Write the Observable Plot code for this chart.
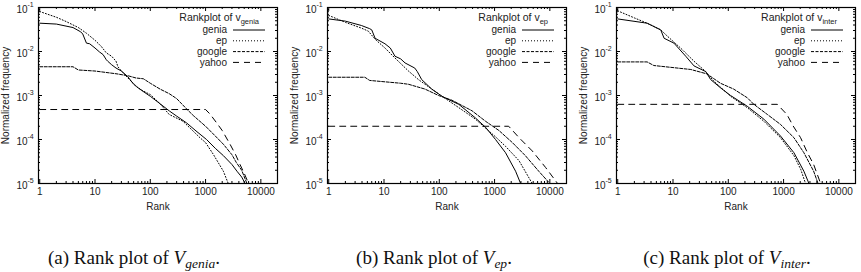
<!DOCTYPE html>
<html><head><meta charset="utf-8">
<script src="https://cdn.jsdelivr.net/npm/d3@7"></script>
<script src="https://cdn.jsdelivr.net/npm/@observablehq/plot@0.6"></script>
<style>
body{margin:0;background:#fff;width:861px;height:272px;overflow:hidden;position:relative;font-family:"Liberation Sans",Arial,sans-serif}
.panel{position:absolute;top:0;width:289px;height:225px;overflow:visible}
.panel svg{max-width:none !important}
.cap{position:absolute;top:247px;font-family:"Liberation Serif","Times New Roman",serif;font-size:19px;white-space:nowrap;transform:translateX(-50%);color:#111}
.cap sub{font-size:13.5px;vertical-align:-4px;line-height:0}
</style></head><body>
<div id="p0" class="panel" style="left:0px"></div>
<div id="p1" class="panel" style="left:289px"></div>
<div id="p2" class="panel" style="left:578px"></div>
<div class="cap" style="left:134px">(a) Rank plot of <i>V<sub>genia</sub></i>.</div>
<div class="cap" style="left:434px">(b) Rank plot of <i>V<sub>ep</sub></i>.</div>
<div class="cap" style="left:727px">(c) Rank plot of <i>V<sub>inter</sub></i>.</div>
<script>
// ---- data (rank, normalized frequency) ----
const xTicks = [1, 10, 100, 1000, 10000];
const yTicks = [1e-1, 1e-2, 1e-3, 1e-4, 1e-5];
const seriesNames = ["genia", "ep", "google", "yahoo"];
const panelSubs = ["genia", "ep", "inter"];

// panel (a): vocabulary V_genia
const genia_a = [[1,0.044],[2,0.042],[4,0.035],[5.5,0.028],[6,0.025],[7,0.0155],[8,0.015],[10,0.012],[12,0.0098],[14,0.0085],[16,0.0065],[17,0.006],[20,0.005],[24,0.0042],[30,0.0036],[39,0.0027],[50,0.0018],[56,0.0016],[70,0.0013],[100,0.00096],[150,0.00065],[224,0.00044],[300,0.00034],[450,0.00024],[700,0.00015],[1040,0.0001],[1500,0.000063],[2100,0.000043],[3000,0.000027],[3700,0.000019],[4500,0.000014],[5200,0.00001]];
const ep_a = [[1,0.081],[2,0.06],[3,0.048],[5,0.035],[7,0.026],[10,0.018],[13,0.013],[16,0.0093],[20,0.0078],[24,0.006],[26,0.0045],[30,0.0036],[42,0.0023],[60,0.0015],[75,0.00126],[100,0.00105],[150,0.00065],[220,0.00037],[390,0.00026],[790,0.00011],[1000,0.000085],[1380,0.000046],[2100,0.000019],[2570,0.00001]];
const google_a = [[1,0.0045],[4,0.0045],[5,0.0038],[10,0.0036],[25,0.0031],[40,0.0028],[55,0.0025],[75,0.0024],[100,0.0019],[150,0.0014],[220,0.0011],[300,0.00085],[450,0.0005],[600,0.00035],[1000,0.0002],[1500,0.00012],[2100,0.000078],[3000,0.000045],[3600,0.00003],[4500,0.00002],[5600,0.00001]];
const yahoo_a = [[1,0.00048],[1000,0.00048],[1200,0.00038],[1580,0.00024],[2000,0.00016],[2770,0.000078],[3500,0.000045],[4200,0.000027],[5000,0.000017],[6000,0.00001]];

// panel (b): vocabulary V_ep
const genia_b = [[1,0.055],[2,0.049],[3.9,0.039],[5.5,0.033],[6,0.031],[6.9,0.02],[10.4,0.015],[13,0.012],[15.8,0.0078],[20,0.0068],[24,0.0055],[36,0.0042],[40,0.0035],[48,0.0023],[73,0.0014],[112,0.00096],[150,0.0008],[225,0.00063],[450,0.00031],[686,0.00019],[1040,0.0001],[1580,0.00005],[2400,0.000019],[2960,0.00001]];
const ep_b = [[1,0.066],[2,0.046],[3.9,0.034],[5.2,0.029],[6.9,0.019],[10.4,0.012],[15.8,0.0071],[27.7,0.0036],[42,0.0023],[73,0.0014],[112,0.00096],[225,0.00053],[450,0.00029],[1040,0.000115],[1580,0.00007],[2770,0.000033],[4800,0.00001]];
const google_b = [[1,0.0026],[4.5,0.0026],[5.5,0.0022],[20,0.0019],[27.7,0.0018],[55,0.0014],[97,0.001],[170,0.00078],[390,0.00045],[686,0.00026],[1200,0.00016],[2100,0.000085],[3600,0.000043],[6300,0.000019],[10000,0.00001]];
const yahoo_b = [[1,0.0002],[1800,0.0002],[2770,0.00011],[4800,0.000055],[8400,0.000023],[13800,0.00001]];

// panel (c): vocabulary V_inter
const genia_c = [[1,0.055],[3.4,0.044],[6,0.031],[6.9,0.02],[10.4,0.0155],[17,0.0078],[24,0.0047],[39,0.0035],[48,0.0023],[72,0.0015],[110,0.001],[220,0.00057],[440,0.00029],[880,0.00012],[1540,0.00005],[2330,0.000019],[2880,0.00001]];
const ep_c = [[1,0.084],[2,0.058],[3.4,0.044],[6,0.031],[8,0.022],[13.7,0.012],[24,0.006],[39,0.0035],[55,0.0021],[110,0.00096],[220,0.00053],[440,0.00026],[880,0.00011],[1540,0.000043],[2040,0.000021],[2500,0.00001]];
const google_c = [[1,0.0058],[3.4,0.0058],[4.5,0.0048],[21,0.0039],[41,0.0031],[72,0.0019],[125,0.0014],[220,0.00089],[290,0.00063],[510,0.00037],[880,0.00022],[1540,0.00011],[2330,0.00005],[3500,0.000019],[4200,0.00001]];
const yahoo_c = [[1,0.00063],[770,0.00063],[1150,0.00037],[1500,0.0002],[2030,0.00011],[2700,0.00005],[3500,0.000027],[4680,0.00001]];

const panels = [
  [genia_a, ep_a, google_a, yahoo_a],
  [genia_b, ep_b, google_b, yahoo_b],
  [genia_c, ep_c, google_c, yahoo_c]
];

// ---- styling ----
const dashes = {genia: null, ep: "1,2", google: "3,1.5", yahoo: "6,5"};
const W = 289, H = 225, mL = 38, mR = 12, mT = 7, mB = 42;
const fw = W - mL - mR, fh = H - mT - mB;

const minorX = [];
for (let e = 0; e <= 4; e++) for (let k = 2; k <= 9; k++) { const v = k * 10 ** e; if (v < 20000) minorX.push(v); }
const minorY = [];
for (let e = -5; e <= -2; e++) for (let k = 2; k <= 9; k++) minorY.push(k * 10 ** e);

panels.forEach((series, pi) => {
  const rows = [];
  series.forEach((arr, si) => arr.forEach(([r, f]) => rows.push({series: seriesNames[si], rank: r, freq: f})));
  const marks = [];
  seriesNames.forEach(name => {
    marks.push(Plot.line(rows.filter(d => d.series === name), {
      x: "rank", y: "freq", stroke: "#000", strokeWidth: 1, strokeDasharray: dashes[name], clip: true
    }));
  });
  marks.push(
    Plot.ruleX(xTicks, {x: d => d, insetTop: fh - 4, stroke: "#000"}),
    Plot.ruleX(xTicks, {x: d => d, insetBottom: fh - 4, stroke: "#000"}),
    Plot.ruleX(minorX, {x: d => d, insetTop: fh - 2, stroke: "#000"}),
    Plot.ruleX(minorX, {x: d => d, insetBottom: fh - 2, stroke: "#000"}),
    Plot.ruleY(yTicks, {y: d => d, insetRight: fw - 4, stroke: "#000"}),
    Plot.ruleY(yTicks, {y: d => d, insetLeft: fw - 4, stroke: "#000"}),
    Plot.ruleY(minorY, {y: d => d, insetRight: fw - 2, stroke: "#000"}),
    Plot.ruleY(minorY, {y: d => d, insetLeft: fw - 2, stroke: "#000"}),
    Plot.frame({stroke: "#000", strokeWidth: 1.2}),
    Plot.text(xTicks, {x: d => d, text: d => String(d), frameAnchor: "bottom", dy: 11, fontSize: 10, fill: "#222"}),
    Plot.text(yTicks, {y: d => d, text: () => "10", frameAnchor: "left", textAnchor: "end", dx: -11, dy: 2, fontSize: 10, fill: "#222"}),
    Plot.text(yTicks, {y: d => d, text: d => String(Math.round(Math.log10(d))), frameAnchor: "left", textAnchor: "start", dx: -11, dy: -3, fontSize: 7, fill: "#222"}),
    Plot.text(["Rank"], {frameAnchor: "bottom", textAnchor: "middle", dy: 26, fontSize: 10, fill: "#222"}),
    Plot.text(["Normalized frequency"], {frameAnchor: "left", textAnchor: "middle", rotate: -90, dx: -33, fontSize: 10, fill: "#222"})
  );
  const chart = Plot.plot({
    width: W, height: H, marginLeft: mL, marginRight: mR, marginTop: mT, marginBottom: mB,
    style: {fontFamily: '"Liberation Sans", Arial, sans-serif', background: "white", overflow: "visible", maxWidth: "none"},
    x: {type: "log", domain: [0.95, 20000], axis: null},
    y: {type: "log", domain: [1e-5, 1e-1], axis: null},
    marks
  });
  chart.style.maxWidth = "none";
  chart.style.width = W + "px";
  chart.style.height = H + "px";
  // legend (layout only)
  const svg = d3.select(chart);
  const right = W - mR;
  const g = svg.append("g").attr("font-family", '"Liberation Sans", Arial, sans-serif').attr("fill", "#222");
  const t = g.append("text").attr("x", right - 18).attr("y", mT + 10.6).attr("dy", "0.32em")
    .attr("text-anchor", "end").attr("font-size", 10.5).text("Rankplot of v");
  t.append("tspan").attr("dy", 3).attr("font-size", 7.5).text(panelSubs[pi]);
  seriesNames.forEach((name, i) => {
    const y = mT + 23 + i * 10.8;
    g.append("text").attr("x", right - 50).attr("y", y).attr("dy", "0.32em").attr("text-anchor", "end")
      .attr("font-size", 10).text(name);
    g.append("line").attr("x1", right - 44).attr("x2", right - 12).attr("y1", y).attr("y2", y)
      .attr("stroke", "#000").attr("stroke-width", 1).attr("stroke-dasharray", dashes[name]);
  });
  document.getElementById("p" + pi).appendChild(chart);
});
</script>
</body></html>
